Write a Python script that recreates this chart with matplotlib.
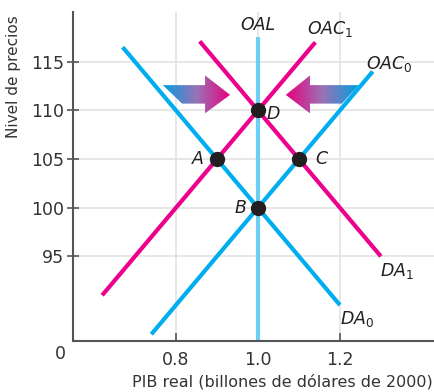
import matplotlib
matplotlib.use("Agg")
import matplotlib.pyplot as plt
from matplotlib.patches import Polygon
from matplotlib.colors import LinearSegmentedColormap
import numpy as np

# curve endpoints (real GDP, price level)
da0_x = [0.67, 1.20]
da0_y = [116.5, 90.0]
da1_x = [0.858, 1.30]
da1_y = [117.1, 95.0]
oac0_x = [0.74, 1.28]
oac0_y = [87.0, 114.0]
oac1_x = [0.62, 1.14]
oac1_y = [91.0, 117.0]
oal_x = [1.0, 1.0]
oal_y = [86.3, 117.5]

# equilibrium points
pt_names = ["A", "B", "C", "D"]
pt_x = [0.9, 1.0, 1.1, 1.0]
pt_y = [105, 100, 105, 110]

xticks = [0.8, 1.0, 1.2]
xticklabels = ["0.8", "1.0", "1.2"]
yticks = [95, 100, 105, 110, 115]

blue = "#00aeef"
magenta = "#ec008c"
lightblue = "#6dcff6"

fig = plt.figure(figsize=(4.35, 3.92), dpi=100)
ax = fig.add_axes([0.168, 0.130, 0.832, 0.839])

ax.set_xlim(0.549, 1.432)
ax.set_ylim(86.3, 120.1)

ax.set_xticks(xticks)
ax.set_xticklabels(xticklabels)
ax.set_yticks(yticks)
ax.grid(True, color="#e3e3e3", lw=1.2, zorder=0)
ax.tick_params(axis="x", direction="in", length=6, width=1.2, color="#555555",
               labelsize=12.5, pad=7, labelcolor="#333333")
ax.tick_params(axis="y", direction="inout", length=9, width=1.2, color="#555555",
               labelsize=12.5, pad=2, labelcolor="#333333")
for s in ["top", "right"]:
    ax.spines[s].set_visible(False)
for s in ["left", "bottom"]:
    ax.spines[s].set_color("#555555")
    ax.spines[s].set_linewidth(1.5)

lw = 3.0
ax.plot(oal_x, oal_y, color=lightblue, lw=lw, solid_capstyle="butt", zorder=2)
ax.plot(da0_x, da0_y, color=blue, lw=lw, solid_capstyle="butt", zorder=3)
ax.plot(oac0_x, oac0_y, color=blue, lw=lw, solid_capstyle="butt", zorder=3)
ax.plot(da1_x, da1_y, color=magenta, lw=lw, solid_capstyle="butt", zorder=3)
ax.plot(oac1_x, oac1_y, color=magenta, lw=lw, solid_capstyle="butt", zorder=3)

ax.plot(pt_x, pt_y, "o", color="#231f20", ms=10, zorder=5)

# gradient arrows
cmap = LinearSegmentedColormap.from_list("g", ["#009fe0", "#9a72b5", "#e8007f"])
left_arrow = [(0.768, 112.6), (0.871, 112.6), (0.871, 113.6), (0.932, 111.6),
              (0.871, 109.7), (0.871, 110.7), (0.815, 110.7)]
right_arrow = [(1.246, 112.6), (1.127, 112.6), (1.127, 113.6), (1.068, 111.6),
               (1.127, 109.7), (1.127, 110.7), (1.205, 110.7)]
grad = np.linspace(0, 1, 256).reshape(1, -1)
for pts, flip in [(left_arrow, False), (right_arrow, True)]:
    xs = [p[0] for p in pts]
    ys = [p[1] for p in pts]
    poly = Polygon(pts, closed=True, fc="none", ec="none")
    ax.add_patch(poly)
    g = grad[:, ::-1] if flip else grad
    im = ax.imshow(g, cmap=cmap, aspect="auto", zorder=4,
                   extent=[min(xs), max(xs), min(ys), max(ys)])
    im.set_clip_path(poly)
ax.set_xlim(0.549, 1.432)
ax.set_ylim(86.3, 120.1)

lab = dict(fontsize=12.5, style="italic", color="#231f20")
ax.text(1.0, 117.85, "OAL", ha="center", va="bottom", **lab)
ax.text(1.175, 117.3, "$\\mathit{OAC}_1$", ha="center", va="bottom", **lab)
ax.text(1.32, 113.7, "$\\mathit{OAC}_0$", ha="center", va="bottom", **lab)
ax.text(1.02, 109.6, "D", ha="left", va="center", **lab)
ax.text(1.14, 105.0, "C", ha="left", va="center", **lab)
ax.text(0.868, 105.0, "A", ha="right", va="center", **lab)
ax.text(0.972, 100.0, "B", ha="right", va="center", **lab)
ax.text(1.34, 93.5, "$\\mathit{DA}_1$", ha="center", va="center", **lab)
ax.text(1.243, 88.6, "$\\mathit{DA}_0$", ha="center", va="center", **lab)

fig.text(60 / 435, 1 - 354 / 392, "0", ha="center", va="center", fontsize=12.5, color="#333333")
fig.text(14 / 435, 1 - 77 / 392, "Nivel de precios", rotation=90, ha="center", va="center",
         fontsize=11, color="#333333")
fig.text(282 / 435, 1 - 382 / 392, "PIB real (billones de dólares de 2000)", ha="center",
         va="center", fontsize=11.5, color="#333333")

fig.savefig("out.png", dpi=100)
